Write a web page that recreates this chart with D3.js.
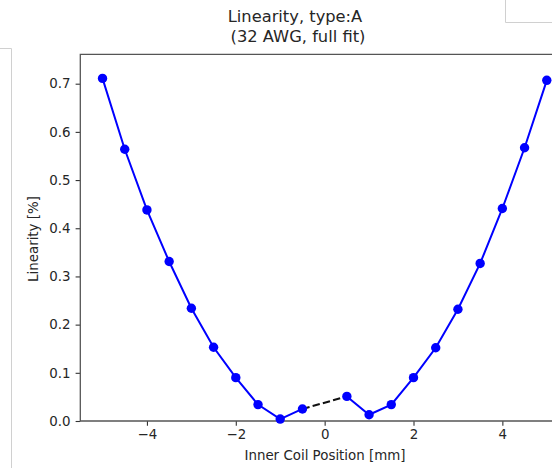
<!DOCTYPE html>
<html>
<head>
<meta charset="utf-8">
<script src="https://cdn.jsdelivr.net/npm/d3@7"></script>
<style>
  body { margin: 0; background: #fff; }
  svg { display: block; font-family: "DejaVu Sans", sans-serif; }
</style>
</head>
<body>
<script>
// positions [mm] and linearity [%] for the two fitted halves
var leftPos = [-5, -4.5, -4, -3.5, -3, -2.5, -2, -1.5, -1, -0.5];
var leftLin = [0.711, 0.564, 0.438, 0.331, 0.234, 0.153, 0.090, 0.034, 0.004, 0.025];
var rightPos = [0.5, 1, 1.5, 2, 2.5, 3, 3.5, 4, 4.5, 5];
var rightLin = [0.051, 0.013, 0.034, 0.090, 0.152, 0.232, 0.327, 0.441, 0.567, 0.707];
var xTicks = [-4, -2, 0, 2, 4];
var yTicks = [0.0, 0.1, 0.2, 0.3, 0.4, 0.5, 0.6, 0.7];

var W = 552, H = 468;
var margin = {top: 54.3, left: 80.3, bottom: 47};
var plotRight = 569;
var height = H - margin.top - margin.bottom;

var svg = d3.select("body").append("svg")
    .attr("width", W)
    .attr("height", H);

// bits of neighbouring panels visible in the screenshot
svg.append("path")
    .attr("d", "M0,48.5H11.5V468")
    .attr("fill", "none").attr("stroke", "#d0d0d0").attr("stroke-width", 1);
svg.append("path")
    .attr("d", "M505.5,0V22.5H552")
    .attr("fill", "none").attr("stroke", "#d0d0d0").attr("stroke-width", 1);

var xScale = d3.scaleLinear().domain([-5.5, 5.5]).range([margin.left, plotRight]);
var yScale = d3.scaleLinear().domain([0, 0.761]).range([margin.top + height, margin.top]);

var xAxis = d3.axisBottom(xScale).tickValues(xTicks).tickFormat(d3.format("d"))
    .tickSizeInner(4.7).tickSizeOuter(0).tickPadding(4);
var yAxis = d3.axisLeft(yScale).tickValues(yTicks).tickFormat(d3.format(".1f"))
    .tickSizeInner(4.7).tickSizeOuter(0).tickPadding(5);

var gx = svg.append("g")
    .attr("class", "x axis")
    .attr("transform", "translate(0," + (margin.top + height) + ")")
    .call(xAxis);
var gy = svg.append("g")
    .attr("class", "y axis")
    .attr("transform", "translate(" + margin.left + ",0)")
    .call(yAxis);

[gx, gy].forEach(function(g) {
    g.select(".domain").remove();
    g.selectAll(".tick line").attr("stroke", "#333").attr("stroke-width", 1.1);
    g.selectAll(".tick text").attr("fill", "#262626").style("font-size", "13.4px")
        .style("font-family", "'DejaVu Sans', sans-serif");
});

// axes frame (right side is outside the picture)
svg.append("path")
    .attr("d", "M" + plotRight + "," + margin.top + "H" + margin.left + "V" + (margin.top + height) + "H" + plotRight)
    .attr("fill", "none").attr("stroke", "#555").attr("stroke-width", 1.3);

// dashed bridge across the centre gap
var line = d3.line().x(function(d) { return xScale(d[0]); }).y(function(d) { return yScale(d[1]); });
svg.append("path")
    .datum([[leftPos[leftPos.length - 1], leftLin[leftLin.length - 1]], [rightPos[0], rightLin[0]]])
    .attr("d", line)
    .attr("fill", "none").attr("stroke", "#111").attr("stroke-width", 2)
    .attr("stroke-dasharray", "7.4,3.2");

[[leftPos, leftLin], [rightPos, rightLin]].forEach(function(s) {
    var pts = s[0].map(function(x, i) { return [x, s[1][i]]; });
    svg.append("path")
        .datum(pts)
        .attr("d", line)
        .attr("fill", "none").attr("stroke", "#0000ff").attr("stroke-width", 2);
    svg.append("g").selectAll("circle")
        .data(pts)
        .enter()
        .append("circle")
        .attr("cx", function(d) { return xScale(d[0]); })
        .attr("cy", function(d) { return yScale(d[1]); })
        .attr("r", 4.7)
        .attr("fill", "#0000ff");
});

// titles and labels
svg.append("text")
    .attr("x", 295).attr("y", 22)
    .attr("text-anchor", "middle").attr("fill", "#262626").style("font-size", "16.3px")
    .text("Linearity, type:A");
svg.append("text")
    .attr("x", 298).attr("y", 42)
    .attr("text-anchor", "middle").attr("fill", "#262626").style("font-size", "16.3px")
    .text("(32 AWG, full fit)");
svg.append("text")
    .attr("x", 325).attr("y", 460)
    .attr("text-anchor", "middle").attr("fill", "#262626").style("font-size", "13.4px")
    .text("Inner Coil Position [mm]");
svg.append("text")
    .attr("transform", "translate(38," + 239 + ") rotate(-90)")
    .attr("text-anchor", "middle").attr("fill", "#262626").style("font-size", "13.4px")
    .text("Linearity [%]");
</script>
</body>
</html>
